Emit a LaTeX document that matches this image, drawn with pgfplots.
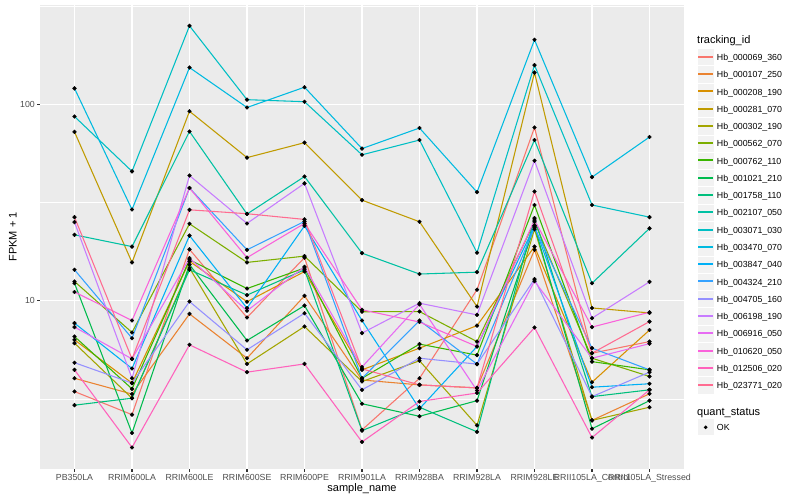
\documentclass[border=0pt]{standalone}
\usepackage{fontspec}
\setmainfont{Liberation Sans}
\usepackage{pgfplots}
\usepackage{pgfplotstable}
\pgfplotsset{compat=1.18}

% ggplot hue palette, 20 levels
\definecolor{c1}{HTML}{F8766D}
\definecolor{c2}{HTML}{EA8331}
\definecolor{c3}{HTML}{D89000}
\definecolor{c4}{HTML}{C09B00}
\definecolor{c5}{HTML}{A3A500}
\definecolor{c6}{HTML}{7CAE00}
\definecolor{c7}{HTML}{39B600}
\definecolor{c8}{HTML}{00BB4E}
\definecolor{c9}{HTML}{00BF7D}
\definecolor{c10}{HTML}{00C1A3}
\definecolor{c11}{HTML}{00BFC4}
\definecolor{c12}{HTML}{00BAE0}
\definecolor{c13}{HTML}{00B0F6}
\definecolor{c14}{HTML}{35A2FF}
\definecolor{c15}{HTML}{9590FF}
\definecolor{c16}{HTML}{C77CFF}
\definecolor{c17}{HTML}{E76BF3}
\definecolor{c18}{HTML}{FA62DB}
\definecolor{c19}{HTML}{FF62BC}
\definecolor{c20}{HTML}{FF6C91}
\definecolor{panelbg}{HTML}{EBEBEB}
\definecolor{keybg}{HTML}{F2F2F2}
\definecolor{tickcol}{HTML}{333333}
\definecolor{labcol}{HTML}{4D4D4D}

\newcommand\tickfont{\fontsize{8.8bp}{10bp}\selectfont}
\newcommand\titlefont{\fontsize{11bp}{13bp}\selectfont}

% FPKM + 1 per sample (x = sample index), one column per tracking_id
\pgfplotstableread{
x  s1    s2    s3    s4     s5    s6    s7    s8    s9    s10   s11   s12   s13   s14   s15   s16   s17   s18   s19   s20
0  3.45  4.03  6.33  72.6   6.09  12.55 6.58  12.3  2.94  21.7  87    121   7.7   14.4  4.84  25.2  7.35  11.1  4.45  26.7
1  2.63  3.35  3.81  15.7   3.19  6.9   3.56  2.12  3.19  18.9  45.7  29.2  4.52  6.45  3.81  4.03  5.06  7.94  1.79  5.06
2  18.3  8.58  15.9  92.5   14.7  24.7  16.2  15.3  14.4  73    252   154.5 21.5  37.6  9.92  43.5  16.5  37.6  5.97  29.1
3  8.22  5.1   9.9   53.7   4.77  15.7  11.55 6.28  10.7  27.7  106   96.7  9.18  18.2  5.63  24.8  8.9   16.6  4.33  27.8
4  16.6  10.6  14.1  64     7.4   16.9  14.7  9.46  14.4  43    103.5 122.7 24.1  25.4  8.65  39.7  14.9  24.8  4.77  26.0
5  2.2   3.95  4.45  32.6   3.88  8.8   4.03  2.99  2.18  17.5  55.5  59.7  7.94  4.03  3.52  6.85  4.6   9.0   1.91  4.5
6  4.03  3.73  5.74  25.3   4.95  8.82  6.02  2.58  2.87  13.7  66    76    2.82  7.94  5.1   9.73  9.6   7.8   3.07  3.73
7  11.4  3.60  7.48  9.35   2.32  6.2   5.29  3.10  2.15  14.0  17.6  35.8  5.85  4.76  4.76  8.48  3.49  5.85  3.39  3.60
8  76.5  18.2  18.9  145.6  23.2  25.3  30.8  24.1  26.4  66    159   214   24.1  23.6  12.9  51.8  12.6  25.8  7.31  36.1
9  5.41  2.46  3.85  9.2    2.46  5.1   4.9   2.23  3.25  12.3  30.8  42.7  3.63  5.74  3.25  8.16  5.1   7.35  2.01  5.41
10 6.2   3.36  7.10  8.68   2.87  4.12  4.45  3.10  3.52  23.4  26.7  68.4  3.78  4.45  4.33  12.5  6.05  8.75  3.52  7.84
}\fpkm

\begin{document}
\begin{tikzpicture}
\useasboundingbox (0,0) rectangle (800bp,500bp);
\begin{axis}[
  name=ax,
  at={(40bp,31bp)}, anchor=south west,
  scale only axis, width=644bp, height=464bp,
  xmin=-0.6, xmax=10.6,
  ymode=log, ymin=1.39, ymax=322,
  axis line style={draw=none},
  axis background/.style={fill=panelbg},
  xtick={0,...,10},
  xticklabels={PB350LA,RRIM600LA,RRIM600LE,RRIM600SE,RRIM600PE,RRIM901LA,RRIM928BA,RRIM928LA,RRIM928LE,RRII105LA\_Control,RRII105LA\_Stressed},
  ytick={10,100}, yticklabels={10,100},
  minor ytick={3.1623,31.623,316.23},
  grid=both,
  major grid style={draw=white, line width=1.07bp},
  minor grid style={draw=white, line width=0.53bp},
  xtick pos=bottom, ytick pos=left,
  tick align=outside,
  major tick length=2.75bp, minor tick length=0pt,
  tick style={draw=tickcol, line width=1.07bp},
  tick label style={font=\tickfont, text=labcol, inner sep=0pt},
  xticklabel style={anchor=north, yshift=-2.2bp},
  yticklabel style={anchor=east, xshift=-2.2bp},
]
\pgfplotsinvokeforeach{1,...,20}{
  \addplot[color=c#1, line width=1.07bp, no markers] table[x=x, y=s#1] {\fpkm};
}
\pgfplotsinvokeforeach{1,...,20}{
  \addplot[only marks, mark=*, mark size=1.9bp, black] table[x=x, y=s#1] {\fpkm};
}
\end{axis}

% axis titles
\node[font=\titlefont, anchor=base] at (362bp,8.3bp) {sample\_name};
\node[font=\titlefont, anchor=base, rotate=90] at (16.5bp,263bp) {FPKM + 1};

% legend: tracking_id
\node[font=\titlefont, anchor=base west, inner sep=0pt] at (697bp,456bp) {tracking\_id};
\foreach \lab [count=\i] in {000069\_360,000107\_250,000208\_190,000281\_070,000302\_190,000562\_070,000762\_110,001021\_210,001758\_110,002107\_050,003071\_030,003470\_070,003847\_040,004324\_210,004705\_160,006198\_190,006916\_050,010620\_050,012506\_020,023771\_020}{
  \pgfmathsetmacro\yc{500-57.3-17.28*(\i-1)}
  \pgfmathsetmacro\yb{\yc-8.64}
  \pgfmathsetmacro\yt{\yc-3.15}
  \pgfmathsetmacro\ylo{500-floor(57.3+17.28*(\i-1))-1}
  \filldraw[fill=keybg, draw=white, line width=1bp] (697bp,\yb bp) rectangle ++(17.28bp,17.28bp);
  \fill[fill=c\i] (698bp,\ylo bp) rectangle (713bp,\ylo bp+2bp);
  \node[font=\tickfont, anchor=base west, inner sep=0pt] at (716.7bp,\yt bp) {Hb\_\lab};
}

% legend: quant_status
\node[font=\titlefont, anchor=base west, inner sep=0pt] at (697bp,84bp) {quant\_status};
\filldraw[fill=keybg, draw=white, line width=1bp] (697bp,64.06bp) rectangle ++(17.28bp,17.28bp);
\fill[black] (705.64bp,72.7bp) circle (1.9bp);
\node[font=\tickfont, anchor=base west, inner sep=0pt] at (716.7bp,69.55bp) {OK};
\end{tikzpicture}
\end{document}
